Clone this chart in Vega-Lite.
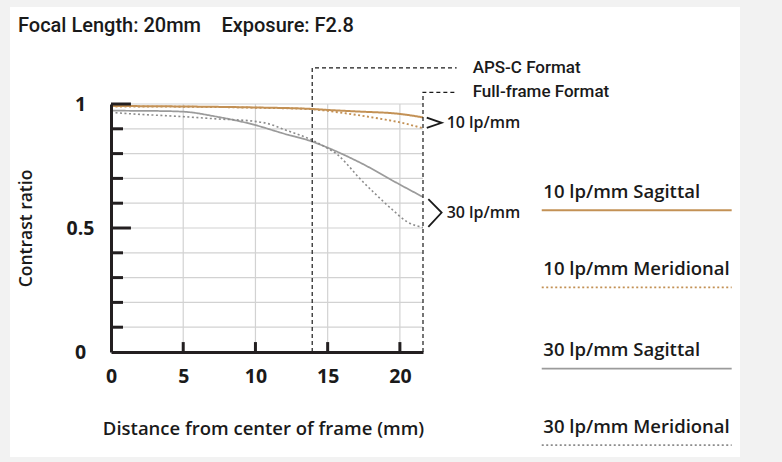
{
  "$schema": "https://vega.github.io/schema/vega-lite/v6.json",
  "description": "MTF chart, 20mm at F2.8",
  "autosize": "none",
  "padding": {"left": 111, "top": 104, "right": 359, "bottom": 110},
  "width": 312,
  "height": 248,
  "background": "#f2f2f2",
  "config": {
    "view": {"stroke": null},
    "font": "Open Sans",
    "text": {"font": "Open Sans", "color": "#1a1a1a"}
  },
  "datasets": {
    "mtf": [
      {"d": 0, "c": 0.992, "s": "10 lp/mm Sagittal"},
      {"d": 5, "c": 0.99, "s": "10 lp/mm Sagittal"},
      {"d": 10, "c": 0.986, "s": "10 lp/mm Sagittal"},
      {"d": 13.9, "c": 0.98, "s": "10 lp/mm Sagittal"},
      {"d": 15, "c": 0.976, "s": "10 lp/mm Sagittal"},
      {"d": 17, "c": 0.97, "s": "10 lp/mm Sagittal"},
      {"d": 20, "c": 0.96, "s": "10 lp/mm Sagittal"},
      {"d": 21.6, "c": 0.946, "s": "10 lp/mm Sagittal"},
      {"d": 0, "c": 0.99, "s": "10 lp/mm Meridional"},
      {"d": 5, "c": 0.989, "s": "10 lp/mm Meridional"},
      {"d": 10, "c": 0.985, "s": "10 lp/mm Meridional"},
      {"d": 13.9, "c": 0.979, "s": "10 lp/mm Meridional"},
      {"d": 15, "c": 0.972, "s": "10 lp/mm Meridional"},
      {"d": 17, "c": 0.956, "s": "10 lp/mm Meridional"},
      {"d": 19, "c": 0.937, "s": "10 lp/mm Meridional"},
      {"d": 20, "c": 0.926, "s": "10 lp/mm Meridional"},
      {"d": 21.6, "c": 0.902, "s": "10 lp/mm Meridional"},
      {"d": 0, "c": 0.973, "s": "30 lp/mm Sagittal"},
      {"d": 3, "c": 0.972, "s": "30 lp/mm Sagittal"},
      {"d": 5, "c": 0.969, "s": "30 lp/mm Sagittal"},
      {"d": 7.3, "c": 0.949, "s": "30 lp/mm Sagittal"},
      {"d": 9.8, "c": 0.918, "s": "30 lp/mm Sagittal"},
      {"d": 12, "c": 0.88, "s": "30 lp/mm Sagittal"},
      {"d": 13.9, "c": 0.849, "s": "30 lp/mm Sagittal"},
      {"d": 15, "c": 0.824, "s": "30 lp/mm Sagittal"},
      {"d": 17.3, "c": 0.762, "s": "30 lp/mm Sagittal"},
      {"d": 20, "c": 0.675, "s": "30 lp/mm Sagittal"},
      {"d": 21.6, "c": 0.625, "s": "30 lp/mm Sagittal"},
      {"d": 0, "c": 0.966, "s": "30 lp/mm Meridional"},
      {"d": 1.5, "c": 0.96, "s": "30 lp/mm Meridional"},
      {"d": 5, "c": 0.949, "s": "30 lp/mm Meridional"},
      {"d": 7.3, "c": 0.94, "s": "30 lp/mm Meridional"},
      {"d": 9.8, "c": 0.931, "s": "30 lp/mm Meridional"},
      {"d": 10.8, "c": 0.922, "s": "30 lp/mm Meridional"},
      {"d": 12, "c": 0.897, "s": "30 lp/mm Meridional"},
      {"d": 13.9, "c": 0.855, "s": "30 lp/mm Meridional"},
      {"d": 15, "c": 0.821, "s": "30 lp/mm Meridional"},
      {"d": 15.7, "c": 0.795, "s": "30 lp/mm Meridional"},
      {"d": 16.3, "c": 0.76, "s": "30 lp/mm Meridional"},
      {"d": 17.1, "c": 0.707, "s": "30 lp/mm Meridional"},
      {"d": 18.2, "c": 0.643, "s": "30 lp/mm Meridional"},
      {"d": 19.4, "c": 0.578, "s": "30 lp/mm Meridional"},
      {"d": 20.5, "c": 0.525, "s": "30 lp/mm Meridional"},
      {"d": 21.6, "c": 0.502, "s": "30 lp/mm Meridional"}
    ],
    "frames": [
      {"g": "APS-C Format", "k": 1, "d": 13.93, "c": 0},
      {"g": "APS-C Format", "k": 2, "d": 13.93, "c": 1.146},
      {"g": "APS-C Format", "k": 3, "d": 23.93, "c": 1.146},
      {"g": "Full-frame Format", "k": 1, "d": 21.6, "c": 0},
      {"g": "Full-frame Format", "k": 2, "d": 21.6, "c": 1.047},
      {"g": "Full-frame Format", "k": 3, "d": 23.93, "c": 1.047}
    ],
    "chevrons": [
      {"g": "10 lp/mm", "k": 1, "d": 21.86, "c": 0.945},
      {"g": "10 lp/mm", "k": 2, "d": 22.89, "c": 0.924},
      {"g": "10 lp/mm", "k": 3, "d": 21.86, "c": 0.904},
      {"g": "30 lp/mm", "k": 1, "d": 21.97, "c": 0.616},
      {"g": "30 lp/mm", "k": 2, "d": 22.89, "c": 0.562},
      {"g": "30 lp/mm", "k": 3, "d": 21.97, "c": 0.505}
    ],
    "yticks": [
      {"v": 0.1, "kind": "minor"}, {"v": 0.2, "kind": "minor"}, {"v": 0.3, "kind": "minor"},
      {"v": 0.4, "kind": "minor"}, {"v": 0.5, "kind": "major"}, {"v": 0.6, "kind": "minor"},
      {"v": 0.7, "kind": "minor"}, {"v": 0.8, "kind": "minor"}, {"v": 0.9, "kind": "minor"},
      {"v": 1, "kind": "major"}
    ],
    "xticks": [{"v": 5}, {"v": 10}, {"v": 15}, {"v": 20}],
    "legend": [
      {"s": "10 lp/mm Sagittal", "c": 0.646},
      {"s": "10 lp/mm Meridional", "c": 0.335},
      {"s": "30 lp/mm Sagittal", "c": 0.008},
      {"s": "30 lp/mm Meridional", "c": -0.301}
    ],
    "heading": [{"t": "Focal Length: 20mm\u2003Exposure: F2.8"}]
  },
  "layer": [
    {
      "data": {"values": [{}]},
      "mark": {"type": "rect", "color": "white", "clip": false},
      "encoding": {
        "x": {"datum": -6.99, "type": "quantitative", "scale": {"domain": [0, 21.6], "nice": false, "zero": false}},
        "x2": {"datum": 43.55},
        "y": {"datum": 1.391, "type": "quantitative", "scale": {"domain": [0, 1], "nice": false, "zero": false}},
        "y2": {"datum": -0.423}
      }
    },
    {
      "data": {"name": "yticks"},
      "mark": {"type": "rule", "color": "#d2d2d2", "strokeWidth": 1.2},
      "encoding": {
        "y": {"field": "v", "type": "quantitative"},
        "x": {"datum": 0},
        "x2": {"datum": 21.6}
      }
    },
    {
      "data": {"name": "xticks"},
      "mark": {"type": "rule", "color": "#d2d2d2", "strokeWidth": 1.2},
      "encoding": {
        "x": {"field": "v", "type": "quantitative"},
        "y": {"datum": 0},
        "y2": {"datum": 1}
      }
    },
    {
      "data": {"name": "mtf"},
      "mark": {"type": "line", "interpolate": "monotone", "strokeCap": "butt"},
      "encoding": {
        "x": {
          "field": "d", "type": "quantitative",
          "scale": {"domain": [0, 21.6], "nice": false, "zero": false},
          "axis": {
            "zindex": 1,
            "values": [0, 5, 10, 15, 20],
            "grid": false,
            "ticks": false,
            "labelOverlap": false,
            "labelPadding": 24,
            "labelBaseline": "middle",
            "labelFont": "Open Sans",
            "labelFontSize": 19.5,
            "labelFontWeight": "bold",
            "labelColor": "#1a1a1a",
            "labelFlush": false,
            "domainColor": "#231f20",
            "domainWidth": 3,
            "title": "Distance from center of frame (mm)",
            "titleX": 152,
            "titleY": 76,
            "titleAlign": "center",
            "titleBaseline": "middle",
            "titleFont": "Open Sans",
            "titleFontSize": 18.5,
            "titleFontWeight": 600,
            "titleColor": "#1a1a1a"
          }
        },
        "y": {
          "field": "c", "type": "quantitative",
          "scale": {"domain": [0, 1], "nice": false, "zero": false},
          "axis": {
            "zindex": 1,
            "values": [0, 0.5, 1],
            "labelExpr": "datum.value == 0 ? '0' : datum.value == 0.5 ? '0.5' : '1'",
            "grid": false,
            "ticks": false,
            "labelOverlap": false,
            "labelPadding": 31,
            "labelAlign": "center",
            "labelBaseline": "middle",
            "labelFont": "Open Sans",
            "labelFontSize": 19.5,
            "labelFontWeight": "bold",
            "labelColor": "#1a1a1a",
            "labelFlush": false,
            "domainColor": "#231f20",
            "domainWidth": 3,
            "title": "Contrast ratio",
            "titleX": -85,
            "titleY": 124,
            "titleAngle": -90,
            "titleAlign": "center",
            "titleBaseline": "middle",
            "titleFont": "Open Sans",
            "titleFontSize": 17.5,
            "titleFontWeight": 600,
            "titleColor": "#1a1a1a"
          }
        },
        "color": {
          "field": "s", "type": "nominal", "legend": null,
          "scale": {
            "domain": ["10 lp/mm Sagittal", "10 lp/mm Meridional", "30 lp/mm Sagittal", "30 lp/mm Meridional"],
            "range": ["#c39155", "#c39155", "#9b9b9b", "#8c8c8c"]
          }
        },
        "strokeDash": {
          "field": "s", "type": "nominal", "legend": null,
          "scale": {
            "domain": ["10 lp/mm Sagittal", "10 lp/mm Meridional", "30 lp/mm Sagittal", "30 lp/mm Meridional"],
            "range": [[1, 0], [2, 2.5], [1, 0], [2, 2.5]]
          }
        },
        "strokeWidth": {
          "field": "s", "type": "nominal", "legend": null,
          "scale": {
            "domain": ["10 lp/mm Sagittal", "10 lp/mm Meridional", "30 lp/mm Sagittal", "30 lp/mm Meridional"],
            "range": [2, 1.6, 2, 1.6]
          }
        }
      }
    },
    {
      "data": {"name": "frames"},
      "mark": {"type": "line", "color": "#1a1a1a", "strokeWidth": 1.2, "strokeDash": [4, 3]},
      "encoding": {
        "x": {"field": "d", "type": "quantitative"},
        "y": {"field": "c", "type": "quantitative"},
        "detail": {"field": "g"},
        "order": {"field": "k"}
      }
    },
    {
      "data": {"name": "frames"},
      "transform": [{"filter": "datum.k == 3"}],
      "mark": {"type": "text", "align": "left", "baseline": "middle", "dx": 16, "fontSize": 17, "font": "Roboto", "fontWeight": 500},
      "encoding": {
        "x": {"field": "d", "type": "quantitative"},
        "y": {"field": "c", "type": "quantitative"},
        "text": {"field": "g"}
      }
    },
    {
      "data": {"name": "chevrons"},
      "mark": {"type": "line", "color": "#1a1a1a", "strokeWidth": 1.8},
      "encoding": {
        "x": {"field": "d", "type": "quantitative"},
        "y": {"field": "c", "type": "quantitative"},
        "detail": {"field": "g"},
        "order": {"field": "k"}
      }
    },
    {
      "data": {"name": "chevrons"},
      "transform": [{"filter": "datum.k == 2"}],
      "mark": {"type": "text", "align": "left", "baseline": "middle", "dx": 5, "fontSize": 16, "fontWeight": 600},
      "encoding": {
        "x": {"field": "d", "type": "quantitative"},
        "y": {"field": "c", "type": "quantitative"},
        "text": {"field": "g"}
      }
    },
    {
      "data": {"name": "yticks"},
      "transform": [{"filter": "datum.kind == 'minor'"}],
      "mark": {"type": "rule", "color": "#231f20", "strokeWidth": 3},
      "encoding": {
        "y": {"field": "v", "type": "quantitative"},
        "x": {"datum": 0},
        "x2": {"datum": 0.83}
      }
    },
    {
      "data": {"name": "yticks"},
      "transform": [{"filter": "datum.kind == 'major'"}],
      "mark": {"type": "rule", "color": "#231f20", "strokeWidth": 3},
      "encoding": {
        "y": {"field": "v", "type": "quantitative"},
        "x": {"datum": 0},
        "x2": {"datum": 1.38}
      }
    },
    {
      "data": {"name": "xticks"},
      "mark": {"type": "rule", "color": "#231f20", "strokeWidth": 3},
      "encoding": {
        "x": {"field": "v", "type": "quantitative"},
        "y": {"datum": 0},
        "y2": {"datum": 0.04}
      }
    },
    {
      "data": {"name": "legend"},
      "mark": {"type": "text", "align": "left", "baseline": "middle", "fontSize": 18.5, "fontWeight": 600},
      "encoding": {
        "x": {"datum": 29.93},
        "y": {"field": "c", "type": "quantitative"},
        "text": {"field": "s"}
      }
    },
    {
      "data": {"name": "legend"},
      "mark": {"type": "rule", "yOffset": 18.5},
      "encoding": {
        "x": {"datum": 29.82},
        "x2": {"datum": 42.97},
        "y": {"field": "c", "type": "quantitative"},
        "color": {"field": "s", "type": "nominal", "legend": null},
        "strokeDash": {"field": "s", "type": "nominal", "legend": null},
        "strokeWidth": {"field": "s", "type": "nominal", "legend": null}
      }
    },
    {
      "data": {"name": "heading"},
      "mark": {"type": "text", "align": "left", "baseline": "middle", "fontSize": 20, "font": "Roboto", "fontWeight": 500},
      "encoding": {
        "x": {"datum": -6.44},
        "y": {"datum": 1.315},
        "text": {"field": "t"}
      }
    }
  ]
}
